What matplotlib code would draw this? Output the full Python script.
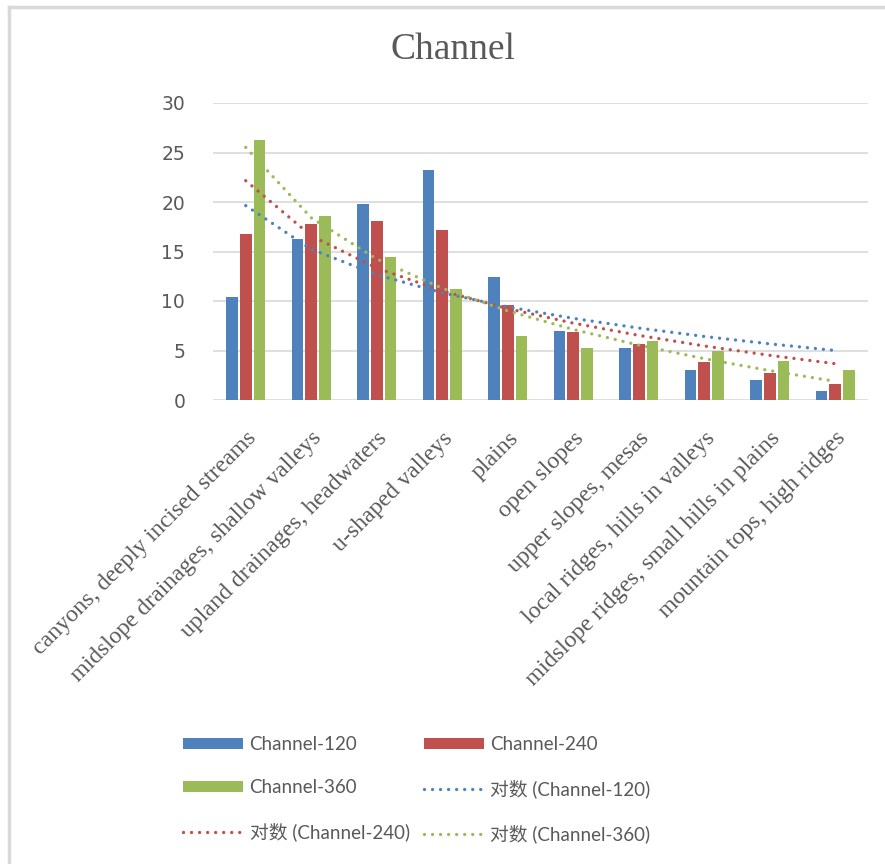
import numpy as np
import matplotlib.pyplot as plt
from matplotlib.lines import Line2D

categories = ["canyons, deeply incised streams",
              "midslope drainages, shallow valleys",
              "upland drainages, headwaters",
              "u-shaped valleys",
              "plains",
              "open slopes",
              "upper slopes, mesas",
              "local ridges, hills in valleys",
              "midslope ridges, small hills in plains",
              "mountain tops, high ridges"]
ch120 = [10.4, 16.3, 19.8, 23.2, 12.4, 7.0, 5.3, 3.0, 2.0, 0.95]
ch240 = [16.8, 17.8, 18.1, 17.2, 9.6, 6.9, 5.7, 3.8, 2.75, 1.6]
ch360 = [26.3, 18.6, 14.4, 11.2, 6.5, 5.3, 6.0, 4.95, 3.9, 3.0]
series_names = ["Channel-120", "Channel-240", "Channel-360"]
colors = ["#4F81BD", "#C0504D", "#9BBB59"]
txt = "#595959"

fig = plt.figure(figsize=(8.85, 8.64), dpi=100)
ax = fig.add_axes([213/885, 1-400/864, 655/885, 297/864])

x = np.arange(len(categories))
w = 0.18
bars = []
for i, (vals, c) in enumerate(zip([ch120, ch240, ch360], colors)):
    b = ax.bar(x + (i-1)*0.21, vals, w, color=c, zorder=3)
    bars.append(b)

# logarithmic trend lines, like Excel: y = a*ln(n) + b, n = 1..10
n = x + 1
dots = (0, (0.01, 2.4))
trends = []
for vals, c in zip([ch120, ch240, ch360], colors):
    a, b0 = np.polyfit(np.log(n), vals, 1)
    ln, = ax.plot(x, a*np.log(n) + b0, color=c, lw=2.4, ls=dots,
                  dash_capstyle='round', zorder=4)
    trends.append(ln)

ax.set_xlim(-0.5, len(categories)-0.5)
ax.set_ylim(0, 30)
ax.set_yticks(range(0, 31, 5))
ax.yaxis.grid(True, color="#D9D9D9", lw=1.2, zorder=0)
for s in ax.spines.values():
    s.set_visible(False)
ax.tick_params(axis='both', length=0)
ax.tick_params(axis='y', labelsize=13.5, labelcolor=txt, pad=20)
ax.set_xticks(x)
ax.set_xticklabels(categories, rotation=45, ha='right', rotation_mode='anchor',
                   family='Liberation Serif', fontsize=17.2, color=txt)
ax.tick_params(axis='x', pad=20)

fig.text(453/885, 1-50/864, "Channel", ha='center', va='center',
         family='Liberation Serif', fontsize=27, color=txt)

handles = [bars[0], bars[2], trends[1], bars[1], trends[0], trends[2]]
labels = ["Channel-120", "Channel-360", "对数 (Channel-240)",
          "Channel-240", "对数 (Channel-120)", "对数 (Channel-360)"]
leg = fig.legend(handles, labels, ncol=2, loc='upper left',
                 bbox_to_anchor=(183/885, 1-736/864), frameon=False,
                 prop={'family': ['Lato', 'Noto Sans CJK SC'], 'size': 13.5},
                 handlelength=3.2, handleheight=0.55, handletextpad=0.35,
                 columnspacing=0.75, labelspacing=1.4, borderpad=0,
                 borderaxespad=0)
for t in leg.get_texts():
    t.set_color(txt)

# outer chart border (top and left edges visible)
fig.add_artist(Line2D([9/885, 1], [1-7/864, 1-7/864], color="#D9D9D9", lw=2.5))
fig.add_artist(Line2D([9/885, 9/885], [0, 1-7/864], color="#D9D9D9", lw=2.5))

fig.savefig("out.png", dpi=100, facecolor='white')
